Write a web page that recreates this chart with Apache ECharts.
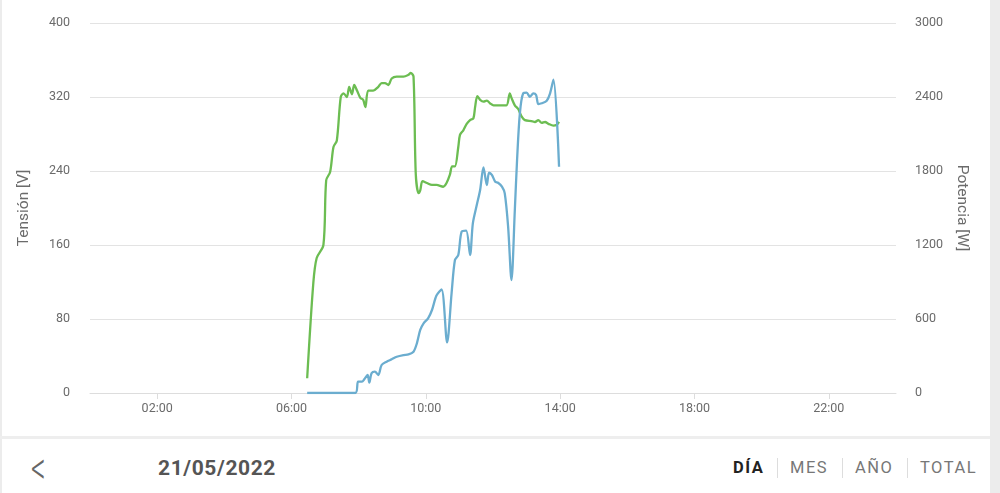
<!DOCTYPE html>
<html>
<head>
<meta charset="utf-8">
<script src="https://cdn.jsdelivr.net/npm/echarts@6/dist/echarts.min.js"></script>
<style>
  html, body { margin: 0; padding: 0; background: #fff; }
  body { width: 1000px; height: 493px; position: relative; overflow: hidden; font-family: Roboto, "Noto Sans", sans-serif; }
  #chart { position: absolute; left: 0; top: 0; width: 1000px; height: 436px; }
  .leftline { position: absolute; left: 0; top: 0; width: 2px; height: 493px; background: #ececec; }
  .rightstrip { position: absolute; left: 990px; top: 0; width: 10px; height: 493px; background: #ececec; }
  .sep { position: absolute; left: 0; top: 436px; width: 990px; height: 3px; background: #eeeeee; }
  .back { position: absolute; left: 31px; top: 443px; font-size: 46px; color: #666; line-height: 50px; font-weight: 300; transform: scaleX(0.62); transform-origin: left center; }
  .date { position: absolute; left: 158px; top: 455px; font-size: 21px; font-weight: bold; color: #555; line-height: 26px; letter-spacing: 0.6px; }
  .tabs { position: absolute; top: 457px; font-size: 16.5px; line-height: 22px; letter-spacing: 1.5px; color: #777; }
  .vsep { position: absolute; top: 458px; width: 1px; height: 20px; background: #ddd; }
</style>
</head>
<body>
<div id="chart"></div>
<div class="leftline"></div>
<div class="rightstrip"></div>
<div class="sep"></div>
<div class="back">&lt;</div>
<div class="date" id="date"></div>
<div class="tabs" id="tab0" style="left:733px;color:#222;font-weight:bold;"></div>
<div class="vsep" style="left:777px"></div>
<div class="tabs" id="tab1" style="left:790px;"></div>
<div class="vsep" style="left:842px"></div>
<div class="tabs" id="tab2" style="left:855px;"></div>
<div class="vsep" style="left:907px"></div>
<div class="tabs" id="tab3" style="left:920px;"></div>
<script>
// ---- Data ----
const dateLabel = "21/05/2022";
const tabLabels = ["DÍA", "MES", "AÑO", "TOTAL"];
const xTickHours = [2, 6, 10, 14, 18, 22];
const tensionName = "Tensión [V]";
const potenciaName = "Potencia [W]";

const tensionTimes = ["06:28","06:39","06:45","06:57","07:02","07:09","07:15","07:21","07:28","07:33","07:39","07:43","07:48","07:52","07:57","08:03","08:08","08:12","08:17","08:26","08:35","08:41","08:47","08:53","08:59","09:08","09:20","09:29","09:33","09:38","09:42","09:47","09:50","09:54","10:02","10:11","10:19","10:31","10:37","10:43","10:47","10:52","10:58","11:01","11:07","11:13","11:19","11:25","11:28","11:32","11:37","11:43","11:49","11:55","12:01","12:12","12:24","12:30","12:33","12:39","12:45","12:51","12:57","13:09","13:15","13:21","13:27","13:33","13:39","13:48","13:54","13:58"];
const tensionValues = [16,119,146,160,230,239,266,273,320,324,320,331,323,333,327,319,317,309,327,327,331,335,335,333,340,342,342,344,346,342,237,216,219,229,227,225,225,223,227,236,245,245,266,279,284,291,295,297,309,321,317,315,316,313,311,311,311,324,319,311,307,299,295,294,293,295,292,293,291,289,290,293];

const potenciaTimes = ["06:28","07:54","07:59","08:06","08:10","08:16","08:19","08:23","08:29","08:35","08:41","08:50","08:59","09:08","09:20","09:29","09:38","09:44","09:50","09:56","10:04","10:11","10:19","10:28","10:38","10:46","10:52","10:58","11:04","11:12","11:19","11:24","11:31","11:37","11:43","11:49","11:53","11:58","12:04","12:09","12:16","12:21","12:27","12:33","12:39","12:43","12:48","12:54","13:00","13:06","13:12","13:17","13:21","13:27","13:36","13:42","13:48","13:58"];
const potenciaValues = [0,0,92,92,111,146,84,160,173,146,227,254,273,294,308,313,335,403,511,565,605,673,790,840,410,808,1078,1119,1308,1316,1119,1376,1524,1646,1830,1686,1786,1768,1713,1705,1673,1619,1349,916,1484,1889,2268,2430,2435,2402,2430,2416,2343,2349,2370,2430,2540,1835];

// ---- Build ----
document.getElementById('date').textContent = dateLabel;
tabLabels.forEach((t, i) => document.getElementById('tab' + i).textContent = t);

function toHours(s) { const p = s.split(':'); return +p[0] + (+p[1]) / 60; }
function pairs(times, vals) { return times.map((t, i) => [toHours(t), vals[i]]); }

const chart = echarts.init(document.getElementById('chart'), null, { renderer: 'canvas' });
const labelColor = '#6b6b6b';
chart.setOption({
  animation: false,
  textStyle: { fontFamily: 'Roboto, "Noto Sans", sans-serif' },
  grid: { left: 90, right: 104, top: 23, bottom: 43 },
  xAxis: {
    type: 'value', min: 0, max: 24,
    axisLine: { show: true, lineStyle: { color: '#dddddd', width: 1 } },
    axisTick: { show: true, customValues: xTickHours, length: 6, lineStyle: { color: '#dddddd' } },
    axisLabel: {
      customValues: xTickHours, color: labelColor, fontSize: 12.5, margin: 9,
      formatter: v => String(v).padStart(2, '0') + ':00'
    },
    splitLine: { show: false }
  },
  yAxis: [
    {
      type: 'value', min: 0, max: 400, interval: 80,
      name: tensionName, nameLocation: 'middle', nameGap: 58,
      nameTextStyle: { color: labelColor, fontSize: 15.5 },
      axisLine: { show: false }, axisTick: { show: false },
      axisLabel: { color: labelColor, fontSize: 12.5, margin: 20, formatter: v => String(v) },
      splitLine: { lineStyle: { color: '#e3e3e3', width: 1 } }
    },
    {
      type: 'value', min: 0, max: 3000, interval: 600, position: 'right',
      name: potenciaName, nameLocation: 'middle', nameGap: 58, nameRotate: -90,
      nameTextStyle: { color: labelColor, fontSize: 15.5 },
      axisLine: { show: false }, axisTick: { show: false },
      axisLabel: { color: labelColor, fontSize: 12.5, margin: 19, formatter: v => String(v) },
      splitLine: { show: false }
    }
  ],
  series: [
    {
      name: tensionName, type: 'line', yAxisIndex: 0,
      data: pairs(tensionTimes, tensionValues),
      showSymbol: false, smooth: 0.3,
      lineStyle: { color: '#6cbd52', width: 2.3 }, itemStyle: { color: '#6cbd52' }
    },
    {
      name: potenciaName, type: 'line', yAxisIndex: 1,
      data: pairs(potenciaTimes, potenciaValues),
      showSymbol: false, smooth: 0.3,
      lineStyle: { color: '#6badcf', width: 2.3 }, itemStyle: { color: '#6badcf' }
    }
  ]
});
</script>
</body>
</html>
